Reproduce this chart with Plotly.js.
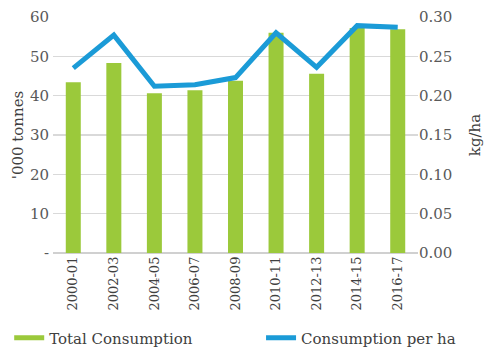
<!DOCTYPE html>
<html>
<head>
<meta charset="utf-8">
<script src="https://cdn.plot.ly/plotly-3.0.1.min.js"></script>
<style>html,body{margin:0;padding:0;background:#fff;}#chart{width:500px;height:360px;}</style>
</head>
<body>
<div id="chart"></div>
<script>
const categories = ["2000-01","2002-03","2004-05","2006-07","2008-09","2010-11","2012-13","2014-15","2016-17"];
const totalConsumption = [43.4, 48.3, 40.6, 41.4, 43.8, 56.0, 45.6, 57.2, 56.9];
const consumptionPerHa = [0.235, 0.277, 0.212, 0.214, 0.223, 0.280, 0.236, 0.289, 0.287];
const leftTickVals = [0, 10, 20, 30, 40, 50, 60];
const leftTickText = ["-", "10", "20", "30", "40", "50", "60"];
const rightTickVals = [0, 0.05, 0.10, 0.15, 0.20, 0.25, 0.30];
const rightTickText = ["0.00", "0.05", "0.10", "0.15", "0.20", "0.25", "0.30"];

const GREEN = "#9bc93b";
const BLUE = "#1b9bd7";
const FONT = "DejaVu Serif";

const traces = [
  {type: "bar", x: categories, y: totalConsumption, name: "Total Consumption",
   marker: {color: GREEN}, width: 0.37, showlegend: false, yaxis: "y"},
  {type: "scatter", mode: "lines", x: categories, y: consumptionPerHa, name: "Consumption per ha",
   line: {color: BLUE, width: 5}, showlegend: false, yaxis: "y2"},
  {type: "scatter", mode: "lines", x: [null], y: [null], name: "Total Consumption",
   line: {color: GREEN, width: 5}, yaxis: "y", legend: "legend"},
  {type: "scatter", mode: "lines", x: [null], y: [null], name: "Consumption per ha",
   line: {color: BLUE, width: 5}, yaxis: "y2", legend: "legend2"}
];

const legendFont = {family: FONT, size: 15, color: "#404040"};

const layout = {
  width: 500, height: 360,
  margin: {l: 53, r: 82, t: 17, b: 107, autoexpand: false},
  paper_bgcolor: "#fff", plot_bgcolor: "#fff",
  font: {family: FONT, color: "#595959", size: 15},
  xaxis: {type: "category", tickangle: -90, tickfont: {family: FONT, size: 13, color: "#404040"},
          showgrid: false, showline: false, ticks: "", zeroline: false, range: [-0.5, 8.5]},
  yaxis: {range: [0, 60], tickvals: leftTickVals, ticktext: leftTickText, ticklabelstandoff: 3,
          showgrid: true, gridcolor: "#d9d9d9", gridwidth: 1.5, zeroline: true, zerolinecolor: "#d0d0d0", zerolinewidth: 1.5,
          showline: false, ticks: "", tickfont: {family: FONT, size: 15, color: "#595959"},
          title: {text: "'000 tonnes", font: {family: FONT, size: 15, color: "#404040"}, standoff: 2}},
  yaxis2: {range: [0, 0.30], tickvals: rightTickVals, ticktext: rightTickText, overlaying: "y", side: "right",
           showgrid: false, zeroline: false, showline: false, ticks: "", tickfont: {family: FONT, size: 15, color: "#595959"},
           title: {text: "kg/ha", font: {family: FONT, size: 15, color: "#404040"}, standoff: 18}},
  legend: {orientation: "h", x: -0.12, xanchor: "left", y: -0.29, yanchor: "top",
           font: legendFont, itemwidth: 30, bgcolor: "rgba(0,0,0,0)"},
  legend2: {orientation: "h", x: 0.57, xanchor: "left", y: -0.29, yanchor: "top",
           font: legendFont, itemwidth: 30, bgcolor: "rgba(0,0,0,0)"},
  showlegend: true
};

Plotly.newPlot("chart", traces, layout, {staticPlot: true, displayModeBar: false});
</script>
</body>
</html>
